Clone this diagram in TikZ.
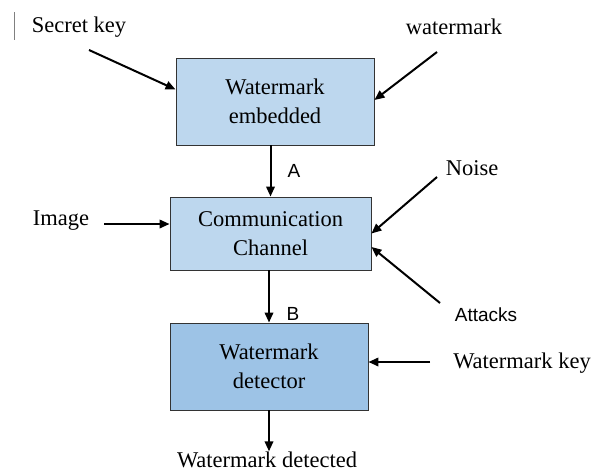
\documentclass[tikz,border=0pt]{standalone}
\usepackage{fontspec}
\setmainfont{Liberation Serif}
\setsansfont{Liberation Sans}
\usetikzlibrary{positioning, arrows.meta, calc}

\begin{document}
\begin{tikzpicture}[x=1pt, y=-1pt, font=\fontsize{22.5}{29.5}\selectfont, >={Triangle[length=10pt, width=8.5pt]},
  blockbox/.style={draw=black!80, line width=0.9pt, fill=blue!8, align=center, inner sep=0pt, minimum width=198pt},
  lbl/.style={inner sep=0.5pt},
  tag/.style={inner sep=0.5pt, font=\sffamily\fontsize{19}{22}\selectfont},
  arr/.style={->, line width=2pt}]
  \useasboundingbox (0,0) rectangle (593,471);
  \definecolor{lightbox}{HTML}{BDD7EE}
  \definecolor{darkbox}{HTML}{9DC3E6}
  % boxes
  \node[blockbox, fill=lightbox, minimum height=87pt] (emb) at (275,101.5) {Watermark\\embedded};
  \node[blockbox, fill=lightbox, minimum height=73pt, minimum width=201pt] (chan) at (270.5,233.5) {Communication\\Channel};
  \node[blockbox, fill=darkbox, minimum height=87pt] (det) at (269,366.5) {Watermark\\detector};
  % labels
  \node[lbl] (sk) at (79,27) {Secret key};
  \node[lbl] (wm) at (454,27) {watermark};
  \node[lbl] (img) at (61,221) {Image};
  \node[lbl] (noise) at (472,168) {Noise};
  \node[tag] (att) at (486,315) {Attacks};
  \node[lbl] (wk) at (522,363) {Watermark key};
  \node[lbl] (wdet) at (267,460) {Watermark detected};
  \node[tag] (ta) at (294,171) {A};
  \node[tag] (tb) at (293,314) {B};
  % free ends
  \coordinate (skT) at (89,50);
  \coordinate (wmT) at (437,52);
  \coordinate (imT) at (104,224);
  \coordinate (noT) at (437,177);
  \coordinate (atT) at (440,303);
  \coordinate (wkT) at (430,362);
  % connectors
  \draw[arr] (skT) -- ([yshift=12pt]emb.west);
  \draw[arr] (wmT) -- ([yshift=1.5pt]emb.east);
  \draw[arr] (chan.north |- emb.south) -- (chan.north);
  \draw[arr] (imT) -- (imT -| chan.west);
  \draw[arr] (noT) -- (chan.east);
  \draw[arr] (atT) -- ([yshift=-13.5pt]chan.east);
  \draw[arr] (det.north |- chan.south) -- (det.north);
  \draw[arr] (wkT) -- (wkT -| det.east);
  \draw[arr] (det.south) -- (det.south |- wdet.north);
  % cursor mark
  \draw[black!50, line width=0.8pt] (14,12) -- (14,40);
\end{tikzpicture}
\end{document}
